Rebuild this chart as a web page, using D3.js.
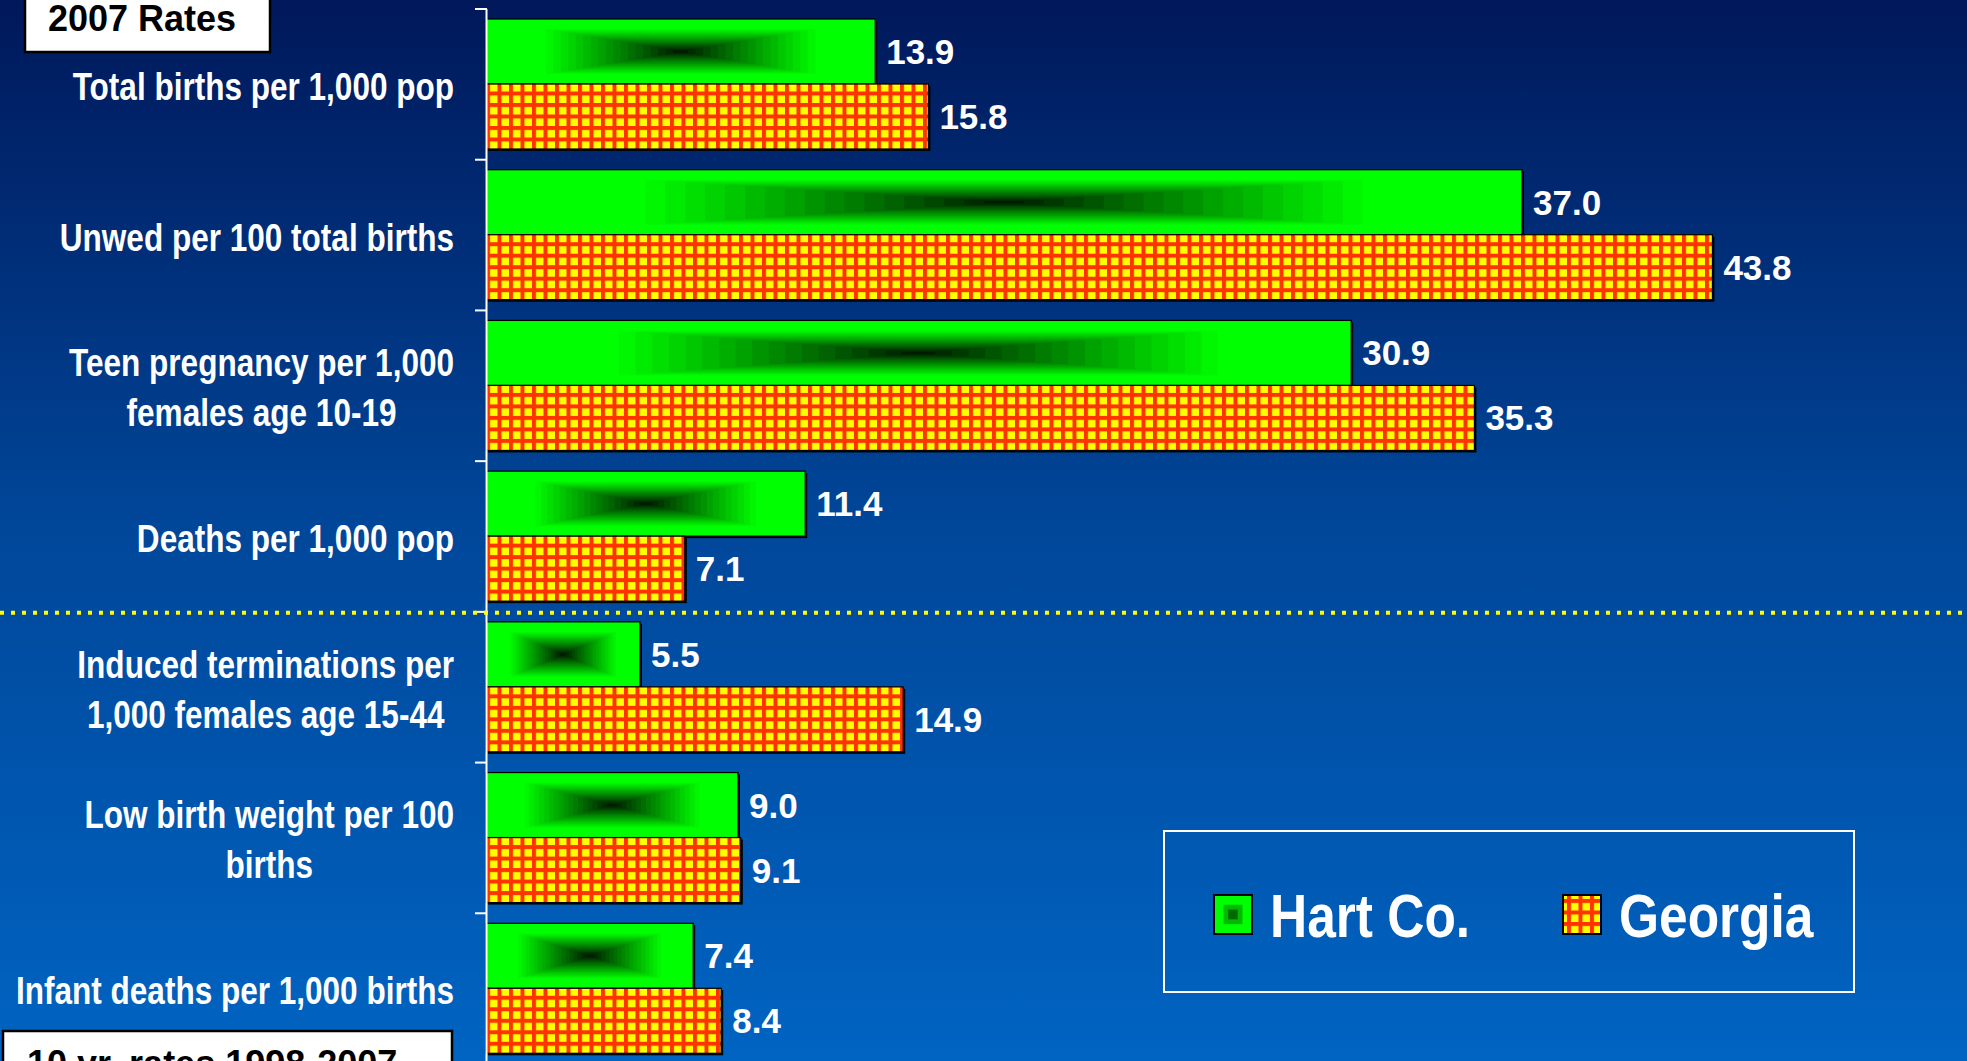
<!DOCTYPE html>
<html>
<head>
<meta charset="utf-8">
<script src="https://cdn.jsdelivr.net/npm/d3@7"></script>
<style>
  html, body { margin: 0; padding: 0; overflow: hidden; background: #00185a; }
  svg { display: block; }
</style>
</head>
<body>
<svg id="chart" width="1967" height="1061"></svg>
<script>
// ---- data ----
const categories = [
  "Total births per 1,000 pop",
  "Unwed per 100 total births",
  "Teen pregnancy per 1,000\nfemales age 10-19",
  "Deaths per 1,000 pop",
  "Induced terminations per\n1,000 females age 15-44",
  "Low birth weight per 100\nbirths",
  "Infant deaths per 1,000 births"
];
const series = ["Hart Co.", "Georgia"];
const hartValues = [13.9, 37.0, 30.9, 11.4, 5.5, 9.0, 7.4];
const georgiaValues = [15.8, 43.8, 35.3, 7.1, 14.9, 9.1, 8.4];
const topLabel = "2007 Rates";
const bottomLabel = "10 yr. rates 1998-2007";

// ---- setup ----
const W = 1967, H = 1061;
const svg = d3.select("#chart");
const defs = svg.append("defs");

const bg = defs.append("linearGradient").attr("id", "bg").attr("x1", 0).attr("y1", 0).attr("x2", 0).attr("y2", 1);
bg.append("stop").attr("offset", "0%").attr("stop-color", "#00185a");
bg.append("stop").attr("offset", "50%").attr("stop-color", "#00479a");
bg.append("stop").attr("offset", "100%").attr("stop-color", "#0064c2");

const P = 11.5;
const pat = defs.append("pattern").attr("id", "grid").attr("patternUnits", "userSpaceOnUse")
  .attr("width", P).attr("height", P).attr("x", 486).attr("y", 2);
pat.append("rect").attr("width", P).attr("height", P).attr("fill", "#ffff00");
pat.append("rect").attr("x", 0).attr("y", 0).attr("width", 4).attr("height", P).attr("fill", "#ff3300");
pat.append("rect").attr("x", 0).attr("y", 0).attr("width", P).attr("height", 4).attr("fill", "#ff3300");

svg.append("rect").attr("width", W).attr("height", H).attr("fill", "url(#bg)");

const x = d3.scaleLinear().domain([0, 50]).range([486, 1886]);
const y = d3.scaleBand().domain(categories).range([9, 1064]);
const ySub = d3.scaleBand().domain(series).range([10, 140]);

const rows = categories.map((c, i) => ({ cat: c, vals: [hartValues[i], georgiaValues[i]] }));

// green "rectangular gradient" fill made of nested rects
const darkGreen = d3.interpolateRgb("#000a00", "#00ff00");
function greenFill(g, x0, y0, w, h, steps) {
  const hw = w / 2, hh = h / 2, cx = x0 + hw, cy = y0 + hh;
  const levels = d3.range(steps).map(i => 1 - i / steps);
  g.selectAll("rect.lvl").data(levels).join("rect").attr("class", "lvl")
    .attr("x", t => cx - t * hw).attr("y", t => cy - t * hh)
    .attr("width", t => 2 * t * hw).attr("height", t => 2 * t * hh)
    .attr("fill", t => t >= 0.72 ? "#00ff00" : darkGreen(Math.pow(t / 0.72, 0.9)));
}

// ---- bars ----
const groups = svg.append("g").selectAll("g.row").data(rows).join("g").attr("class", "row")
  .attr("transform", d => `translate(0,${y(d.cat)})`);

groups.each(function(d) {
  const g = d3.select(this);
  series.forEach((s, si) => {
    const v = d.vals[si];
    const bx = x(0), by = ySub(s), bw = x(v) - x(0), bh = ySub.bandwidth();
    const bar = g.append("g");
    bar.append("rect").attr("x", bx + 2).attr("y", by + 2).attr("width", bw).attr("height", bh).attr("fill", "#000");
    if (si === 0) {
      greenFill(bar.append("g"), bx, by, bw, bh, 26);
    } else {
      bar.append("rect").attr("x", bx).attr("y", by).attr("width", bw).attr("height", bh).attr("fill", "url(#grid)");
    }
    bar.append("rect").attr("x", bx).attr("y", by).attr("width", bw).attr("height", bh)
      .attr("fill", "none").attr("stroke", "#000").attr("stroke-width", 1.2);
    g.append("text").attr("x", x(v) + 11).attr("y", by + bh / 2 + 12.5)
      .attr("fill", "#fff").attr("font-family", "'Liberation Sans', Arial, sans-serif")
      .attr("font-weight", "bold").attr("font-size", 35).text(d3.format(".1f")(v));
  });
});

// ---- axis ----
const axis = svg.append("g");
axis.append("line").attr("x1", 486.5).attr("x2", 486.5).attr("y1", y.range()[0]).attr("y2", H)
  .attr("stroke", "#fff").attr("stroke-width", 2);
axis.selectAll("line.tick").data(categories).join("line").attr("class", "tick")
  .attr("x1", 475).attr("x2", 487).attr("y1", d => y(d)).attr("y2", d => y(d))
  .attr("stroke", "#fff").attr("stroke-width", 2);

// ---- category labels (condensed bold) ----
const labelFont = "'Liberation Sans', Arial, sans-serif";
const squeeze = 0.83;
const lab = svg.append("g");
categories.forEach(c => {
  const lines = c.split("\n");
  const cy = y(c) + y.bandwidth() / 2 + 2;
  const lh = 50;
  const tg = lab.append("g");
  const ts = lines.map((ln, i) => {
    const gg = tg.append("g")
      .attr("transform", `translate(0,${cy + (i - (lines.length - 1) / 2) * lh + 13.5}) scale(${squeeze},1)`);
    return gg.append("text").attr("x", 0).attr("y", 0)
      .attr("text-anchor", "middle").attr("fill", "#fff")
      .attr("font-family", labelFont).attr("font-weight", "bold").attr("font-size", 38)
      .text(ln);
  });
  const maxW = d3.max(ts.map(t => t.node().getComputedTextLength())) * squeeze;
  ts.forEach(t => {
    const p = d3.select(t.node().parentNode);
    const yy = p.attr("transform").match(/translate\(0,([^)]+)\)/)[1];
    p.attr("transform", `translate(${454 - maxW / 2},${yy}) scale(${squeeze},1)`);
  });
});

// ---- dotted divider ----
svg.append("line").attr("x1", 0).attr("x2", W).attr("y1", y(categories[4]) + 1).attr("y2", y(categories[4]) + 1)
  .attr("stroke", "#ffff00").attr("stroke-width", 4).attr("stroke-dasharray", "4,7");

// ---- boxed notes ----
svg.append("rect").attr("x", 25).attr("y", -5).attr("width", 245).attr("height", 57)
  .attr("fill", "#fff").attr("stroke", "#000").attr("stroke-width", 2.5);
svg.append("text").attr("x", 48).attr("y", 31).attr("fill", "#000")
  .attr("font-family", "'Liberation Sans', Arial, sans-serif").attr("font-weight", "bold").attr("font-size", 36)
  .text(topLabel);
svg.append("rect").attr("x", 3).attr("y", 1031).attr("width", 449).attr("height", 60)
  .attr("fill", "#fff").attr("stroke", "#000").attr("stroke-width", 2.5);
svg.append("text").attr("x", 27).attr("y", 1076).attr("fill", "#000")
  .attr("font-family", "'Liberation Sans', Arial, sans-serif").attr("font-weight", "bold").attr("font-size", 36)
  .text(bottomLabel);

// ---- legend ----
const leg = svg.append("g");
leg.append("rect").attr("x", 1164).attr("y", 831).attr("width", 690).attr("height", 161)
  .attr("fill", "none").attr("stroke", "#fff").attr("stroke-width", 2);
const legX = [1214, 1563];
series.forEach((s, i) => {
  const sx = legX[i], sy = 895, sw = 38, sh = 39;
  const g = leg.append("g");
  if (i === 0) greenFill(g.append("g"), sx, sy, sw, sh, 4);
  else g.append("rect").attr("x", sx).attr("y", sy).attr("width", sw).attr("height", sh).attr("fill", "url(#grid)");
  g.append("rect").attr("x", sx).attr("y", sy).attr("width", sw).attr("height", sh)
    .attr("fill", "none").attr("stroke", "#000").attr("stroke-width", 2);
  g.append("g").attr("transform", `translate(${sx + 56},937) scale(${squeeze},1)`)
    .append("text").attr("x", 0).attr("y", 0).attr("fill", "#fff")
    .attr("font-family", labelFont).attr("font-weight", "bold").attr("font-size", 62).text(s);
});
</script>
</body>
</html>
